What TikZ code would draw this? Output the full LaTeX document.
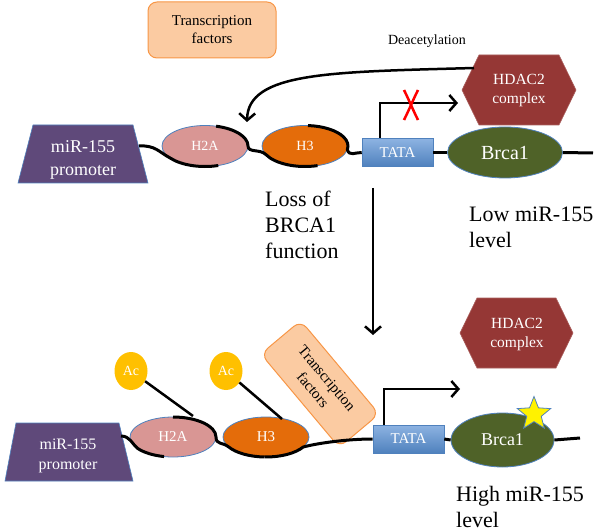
\documentclass[tikz,border=0pt]{standalone}
\usepackage{fontspec}
\setmainfont{Liberation Serif}
\usetikzlibrary{shapes.geometric,arrows.meta}
\definecolor{promcol}{HTML}{5F497A}
\definecolor{h2acol}{HTML}{D99694}
\definecolor{h3col}{HTML}{E46C0A}
\definecolor{brcacol}{HTML}{4F6228}
\definecolor{hdaccol}{HTML}{953735}
\definecolor{tfcol}{HTML}{FBCBA2}
\definecolor{tfborder}{HTML}{F79646}
\definecolor{accol}{HTML}{FFC000}
\definecolor{edgeblue}{HTML}{4F81BD}
\definecolor{tatatop}{HTML}{8DB3E2}
\definecolor{tatabot}{HTML}{4F81BD}
\begin{document}
\begin{tikzpicture}[x=1pt,y=-1pt,
  histone/.style={ellipse, draw=edgeblue, line width=0.8pt, inner sep=0pt, minimum width=86pt, minimum height=41pt, text=white, font=\fontsize{14}{16}\selectfont},
  tatabox/.style={rectangle, draw=edgeblue, line width=0.6pt, top color=tatatop, bottom color=tatabot, minimum width=71pt, minimum height=28pt, inner sep=0pt, text=white, font=\fontsize{15}{17}\selectfont},
  brcanode/.style={ellipse, draw=edgeblue, line width=0.8pt, fill=brcacol, text=white, inner sep=0pt},
  tfbox/.style={rectangle, rounded corners=9pt, draw=tfborder, line width=1pt, fill=tfcol, align=center, font=\fontsize{15}{18}\selectfont, inner sep=0pt},
  acnode/.style={ellipse, fill=accol, minimum width=33pt, minimum height=38pt, inner sep=0pt, text=white, font=\fontsize{14}{16}\selectfont},
  promshape/.style={fill=promcol, draw=edgeblue, line width=0.6pt},
  hexshape/.style={fill=hdaccol, draw=hdaccol!80!white, line width=0.6pt},
  shapetext/.style={text=white, align=center},
  dna/.style={line width=3pt, black},
  arr/.style={line width=2.5pt, -{Straight Barb[length=7pt,width=16pt]}},
  bigtext/.style={font=\fontsize{22}{26}\selectfont, align=left, inner sep=0pt}
]
\useasboundingbox (0,0) rectangle (600,532);

% ---------- top row ----------
\node[tfbox, minimum width=128pt, minimum height=56pt] (tf1) at (212,30) {Transcription\\factors};
\node[font=\fontsize{14}{16}\selectfont] (deac) at (427,41) {Deacetylation};

\path[promshape] (33,125) -- (133,125) -- (148,183) -- (18,183) -- cycle;
\node[shapetext, font=\fontsize{18}{23}\selectfont] (prom1) at (83,160) {miR-155\\promoter};
\coordinate (p1) at (139,146);

\path[hexshape] (462,90) -- (479,55) -- (559,55) -- (576,90) -- (559,125) -- (479,125) -- cycle;
\node[shapetext, font=\fontsize{15.5}{19}\selectfont] (hdac1) at (519,91) {HDAC2\\complex};
\coordinate (hd1) at (474,68);

\node[histone, fill=h2acol] (h2a1) at (205,146) {H2A};
\node[histone, fill=h3col] (h31) at (305,146) {H3};
\node[tatabox] (tata1) at (397.5,152.5) {TATA};
\node[brcanode, minimum width=115pt, minimum height=51pt, font=\fontsize{20}{22}\selectfont] (brca1) at (505,152.5) {Brca1};
\coordinate (end1) at (593,153);

% DNA top
\draw[dna] (p1) .. controls (155,145) and (159,152) .. ([shift={(216:43pt and 20.5pt)}]h2a1.center)
  arc[start angle=216, end angle=288, x radius=43pt, y radius=20.5pt];
\draw[dna] ([shift={(75:43pt and 20.5pt)}]h2a1.center)
  arc[start angle=75, end angle=0, x radius=43pt, y radius=20.5pt]
  .. controls +(0,-7pt) and +(-6pt,6pt) .. ([shift={(205:43pt and 20.5pt)}]h31.center)
  arc[start angle=205, end angle=287, x radius=43pt, y radius=20.5pt];
\draw[dna] ([shift={(86:43pt and 20.5pt)}]h31.center)
  arc[start angle=86, end angle=-10, x radius=43pt, y radius=20.5pt]
  .. controls +(2pt,-7pt) and +(-7pt,0) .. (tata1.west);
\draw[dna] (tata1.east) -- (brca1.west);
\draw[dna] (brca1.east) -- (end1);

% transcription arrow (blocked)
\coordinate (ta1) at (380,103);
\coordinate (tt1) at (458,103);
\draw[arr] (tata1.north -| ta1) -- (ta1) -- (tt1);
\draw[red, line width=2.5pt] (404,90) .. controls (409,100) and (413,110) .. (418,120);
\draw[red, line width=2.5pt] (418,90) .. controls (413,100) and (409,110) .. (404,120);

% deacetylation arrow
\coordinate (dt) at (247,122);
\draw[arr] (hd1) .. controls (330,72) and (248,72) .. (dt);

% middle
\node[bigtext, anchor=west] (loss) at (265,225) {Loss of\\BRCA1\\function};
\node[bigtext, anchor=west] (low) at (469,227) {Low miR-155\\level};
\coordinate (va) at (373,188);
\coordinate (vb) at (373,335);
\draw[arr] (va) -- (vb);

% ---------- bottom row ----------
\path[hexshape] (460,333) -- (477,298) -- (556,298) -- (573,333) -- (556,368) -- (477,368) -- cycle;
\node[shapetext, font=\fontsize{15.5}{19}\selectfont] (hdac2) at (517,335) {HDAC2\\complex};

\path[promshape] (16,423) -- (119,423) -- (133,481) -- (5,481) -- cycle;
\node[shapetext, font=\fontsize{16}{20}\selectfont] (prom2) at (68,456) {miR-155\\promoter};
\coordinate (p2) at (121,436);

\node[tfbox, minimum width=122pt, minimum height=52pt, rotate=-50] (tf2) at (320,384) {Transcription\\factors};

\node[histone, fill=h2acol, minimum height=40pt, font=\fontsize{15}{17}\selectfont] (h2a2) at (173,437) {H2A};
\node[histone, fill=h3col, minimum height=40pt, font=\fontsize{15}{17}\selectfont] (h32) at (266,437) {H3};
\node[tatabox] (tata2) at (408.5,439) {TATA};
\node[brcanode, minimum width=103pt, minimum height=54pt, font=\fontsize{18}{20}\selectfont] (brca2) at (502.5,440) {Brca1};
\coordinate (end2) at (580,438);

\node[acnode] (ac1) at (131,371) {Ac};
\node[acnode] (ac2) at (226,371) {Ac};
\coordinate (ae1) at (193,416);
\coordinate (ae2) at (282,419);
\draw[line width=2.5pt] (ac1) -- (ae1);
\draw[line width=2.5pt] (ac2) -- (ae2);

% DNA bottom
\draw[dna] (p2) .. controls (130,436) and (132,444) .. ([shift={(215:43pt and 20pt)}]h2a2.center)
  arc[start angle=215, end angle=258, x radius=43pt, y radius=20pt];
\draw[dna] ([shift={(90:43pt and 20pt)}]h2a2.center)
  arc[start angle=90, end angle=0, x radius=43pt, y radius=20pt]
  .. controls +(0,-8pt) and +(-6pt,5pt) .. ([shift={(210:43pt and 20pt)}]h32.center)
  arc[start angle=210, end angle=268, x radius=43pt, y radius=20pt];
\draw[dna] ([shift={(268:43pt and 20pt)}]h32.center)
  arc[start angle=268, end angle=330, x radius=43pt, y radius=20pt]
  .. controls +(15pt,4pt) and +(-25pt,0) .. (tata2.west);
\draw[dna] (tata2.east) -- (brca2.west);
\draw[dna] (brca2.east) -- (end2);

\coordinate (ta2) at (384,389);
\coordinate (tt2) at (460,389);
\draw[arr] (tata2.north -| ta2) -- (ta2) -- (tt2);

\node[star, star points=5, star point ratio=2.3, fill=yellow, draw=edgeblue, line width=0.8pt, minimum size=35pt, inner sep=0pt] (star) at (534,414) {};

\node[bigtext, anchor=west] (high) at (456,507) {High miR-155\\level};
\end{tikzpicture}
\end{document}
